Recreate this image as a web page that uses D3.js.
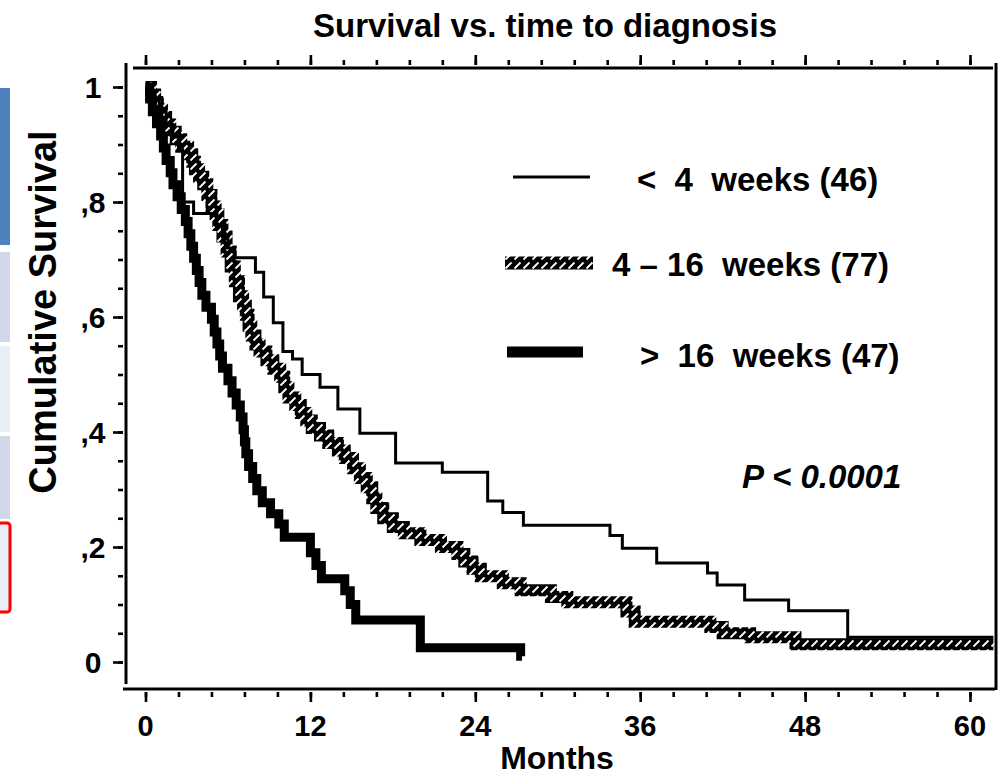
<!DOCTYPE html>
<html>
<head>
<meta charset="utf-8">
<script src="https://cdn.jsdelivr.net/npm/d3@7"></script>
<style>
  body { margin: 0; background: #fff; }
  text { font-family: 'Liberation Sans', Arial, Helvetica, sans-serif; font-weight: bold; fill: #000; }
</style>
</head>
<body>
<svg id="viz" width="999" height="776"></svg>
<script>
// values: [months, cumulative survival]
var shortDelay = [
  [0, 1], [0.5, 0.978], [1.0, 0.957], [1.5, 0.935], [2.0, 0.913], [2.4, 0.891], [2.7, 0.8],
  [3.5, 0.78], [5.2, 0.761], [5.6, 0.739], [6.0, 0.72], [6.5, 0.703], [8.0, 0.678],
  [8.6, 0.635], [9.3, 0.59], [10.0, 0.54], [10.7, 0.527], [11.4, 0.5], [12.7, 0.478],
  [14.0, 0.44], [15.6, 0.398], [18.2, 0.346], [21.6, 0.33], [24.9, 0.28], [26.0, 0.26],
  [27.5, 0.238], [33.8, 0.22], [34.7, 0.198], [37.2, 0.172], [40.9, 0.155], [41.6, 0.134],
  [43.6, 0.108], [46.8, 0.089], [51.1, 0.043]
];
var midDelay = [
  [0, 1], [0.4, 0.987], [0.7, 0.974], [0.9, 0.961], [1.2, 0.948], [1.5, 0.935], [1.8, 0.922],
  [2.2, 0.909], [2.6, 0.896], [3.1, 0.883], [3.4, 0.87], [3.6, 0.857], [3.9, 0.844],
  [4.2, 0.831], [4.5, 0.812], [4.8, 0.792], [5.1, 0.779], [5.3, 0.76], [5.6, 0.74],
  [5.9, 0.714], [6.2, 0.688], [6.5, 0.662], [6.8, 0.636], [7.1, 0.62], [7.3, 0.604],
  [7.5, 0.585], [7.7, 0.568], [8.0, 0.552], [8.3, 0.54], [8.8, 0.525], [9.3, 0.51],
  [9.8, 0.496], [10.1, 0.478], [10.4, 0.46], [10.9, 0.447], [11.3, 0.433], [11.7, 0.42],
  [12.1, 0.407], [12.7, 0.394], [13.3, 0.381], [14.0, 0.368], [14.5, 0.355], [15.1, 0.337],
  [15.6, 0.32], [16.1, 0.304], [16.5, 0.285], [16.8, 0.268], [17.3, 0.25], [18.0, 0.235],
  [18.8, 0.224], [20.0, 0.212], [21.5, 0.2], [22.7, 0.188], [23.2, 0.175], [23.8, 0.162],
  [24.4, 0.149], [26.0, 0.137], [27.3, 0.125], [29.5, 0.113], [30.7, 0.104], [35.0, 0.088],
  [35.6, 0.07], [41.1, 0.061], [42.0, 0.05], [44.0, 0.043], [47.3, 0.031]
];
var longDelay = [
  [0, 1], [0.3, 0.979], [0.5, 0.957], [0.8, 0.936], [1.1, 0.915], [1.3, 0.894], [1.5, 0.872],
  [1.8, 0.851], [2.0, 0.83], [2.3, 0.809], [2.6, 0.787], [2.9, 0.766], [3.1, 0.745],
  [3.3, 0.723], [3.5, 0.702], [3.7, 0.681], [3.9, 0.66], [4.1, 0.638], [4.4, 0.617],
  [4.8, 0.596], [5.0, 0.574], [5.2, 0.553], [5.4, 0.532], [5.6, 0.511], [6.0, 0.489],
  [6.3, 0.468], [6.6, 0.447], [6.9, 0.426], [7.1, 0.404], [7.2, 0.383], [7.3, 0.362],
  [7.5, 0.34], [7.8, 0.319], [8.1, 0.298], [8.5, 0.277], [9.1, 0.258], [9.7, 0.24],
  [10.1, 0.217], [12.0, 0.19], [12.4, 0.168], [12.8, 0.145], [14.5, 0.124], [14.9, 0.1],
  [15.3, 0.073], [20.0, 0.025], [27.3, 0.01]
];
var lastFollowUp = [61.7, 61.7, 27.4];
var groupLabels = ['<  4  weeks (46)', '4 \u2013 16  weeks (77)', '>  16  weeks (47)'];
var xTicks = [0, 12, 24, 36, 48, 60];
var yTicks = [0, 0.2, 0.4, 0.6, 0.8, 1];
var yTickLabels = ['0', ',2', ',4', ',6', ',8', '1'];

var svg = d3.select('#viz');

var x = d3.scaleLinear().domain([0, 60]).range([145.5, 970]);
var y = d3.scaleLinear().domain([0, 1]).range([662, 87]);

// hatch used for the middle group
var defs = svg.append('defs');
var hatch = defs
  .append('pattern')
  .attr('id', 'hatch')
  .attr('patternUnits', 'userSpaceOnUse')
  .attr('width', 9)
  .attr('height', 9);
hatch.append('rect').attr('width', 9).attr('height', 9).attr('fill', '#000');
hatch
  .append('line')
  .attr('x1', 1.5).attr('y1', 7.5).attr('x2', 7.5).attr('y2', 1.5)
  .attr('stroke', '#fff')
  .attr('stroke-width', 1.8);

// slide leftovers on the left edge
var boxes = [
  { y0: 88, y1: 245, fill: '#4f81bd', stroke: 'none' },
  { y0: 252, y1: 342, fill: '#cfd7e8', stroke: 'none' },
  { y0: 346, y1: 432, fill: '#e9edf5', stroke: 'none' },
  { y0: 436, y1: 519, fill: '#cfd7e8', stroke: 'none' },
  { y0: 523, y1: 612, fill: '#e9edf5', stroke: '#ff0000' }
];
svg
  .selectAll('rect.cell')
  .data(boxes)
  .join('rect')
  .attr('class', 'cell')
  .attr('x', -6)
  .attr('y', (d) => d.y0)
  .attr('width', 16)
  .attr('height', (d) => d.y1 - d.y0)
  .attr('rx', (d) => (d.stroke == 'none' ? 0 : 3))
  .attr('fill', (d) => d.fill)
  .attr('stroke', (d) => d.stroke)
  .attr('stroke-width', 3);

// frame
var frame = [
  [126, 63, 126, 684],
  [123, 689, 995, 689],
  [133, 68, 993, 68],
  [996, 63, 996, 690]
];
svg
  .selectAll('line.frame')
  .data(frame)
  .join('line')
  .attr('class', 'frame')
  .attr('x1', (d) => d[0])
  .attr('y1', (d) => d[1])
  .attr('x2', (d) => d[2])
  .attr('y2', (d) => d[3])
  .attr('stroke', '#000')
  .attr('stroke-width', 3);

// ticks: minor every 2.4 months / 0.05, major on the labels
var xMinor = d3.range(0, 60.01, 2.4);
var yMinor = d3.range(0, 1.001, 0.05);

function tickAxis(g, axis) {
  g.call(axis);
  g.select('.domain').remove();
  g.selectAll('line').attr('stroke-width', 2.6);
  g.selectAll('text').remove();
}

svg.append('g').attr('transform', 'translate(0,692)')
  .call((g) => tickAxis(g, d3.axisBottom(x).tickValues(xMinor).tickSize(5)));
svg.append('g').attr('transform', 'translate(0,692)')
  .call((g) => tickAxis(g, d3.axisBottom(x).tickValues(xTicks).tickSize(10)));
svg.append('g').attr('transform', 'translate(0,65)')
  .call((g) => tickAxis(g, d3.axisTop(x).tickValues(xMinor).tickSize(5)));
svg.append('g').attr('transform', 'translate(0,65)')
  .call((g) => tickAxis(g, d3.axisTop(x).tickValues(xTicks).tickSize(10)));
svg.append('g').attr('transform', 'translate(123,0)')
  .call((g) => tickAxis(g, d3.axisLeft(y).tickValues(yMinor).tickSize(5)));
svg.append('g').attr('transform', 'translate(123,0)')
  .call((g) => tickAxis(g, d3.axisLeft(y).tickValues(yTicks).tickSize(10)));

// tick labels
svg
  .selectAll('text.xlab')
  .data(xTicks)
  .join('text')
  .attr('class', 'xlab')
  .attr('x', (d) => x(d))
  .attr('y', 736)
  .attr('text-anchor', 'middle')
  .style('font-size', '29px')
  .text((d) => d);

svg
  .selectAll('text.ylab')
  .data(yTicks)
  .join('text')
  .attr('class', 'ylab')
  .attr('x', 93)
  .attr('y', (d) => y(d))
  .attr('dy', '0.36em')
  .attr('text-anchor', 'middle')
  .style('font-size', '30px')
  .text((d, i) => yTickLabels[i]);

svg
  .append('text')
  .attr('x', 557)
  .attr('y', 769)
  .attr('text-anchor', 'middle')
  .style('font-size', '32px')
  .text('Months');

svg
  .append('text')
  .attr('transform', 'translate(56,312) rotate(-90)')
  .attr('text-anchor', 'middle')
  .style('font-size', '38px')
  .text('Cumulative Survival');

svg
  .append('text')
  .attr('x', 545)
  .attr('y', 37)
  .attr('text-anchor', 'middle')
  .style('font-size', '33px')
  .text('Survival vs. time to diagnosis');

// survival curves
var line = d3
  .line()
  .x((d) => x(d[0]))
  .y((d) => y(d[1]))
  .curve(d3.curveStepAfter);

var groups = [
  { data: shortDelay, end: lastFollowUp[0], stroke: '#000', width: 3 },
  { data: midDelay, end: lastFollowUp[1], stroke: 'url(#hatch)', width: 12 },
  { data: longDelay, end: lastFollowUp[2], stroke: '#000', width: 9 }
];
var drawOrder = [1, 2, 0];

drawOrder.forEach(function (i) {
  var g = groups[i];
  var pts = g.data.concat([[g.end, g.data[g.data.length - 1][1]]]);
  svg
    .append('path')
    .attr('d', line(pts))
    .attr('fill', 'none')
    .attr('stroke', g.stroke)
    .attr('stroke-width', g.width)
    .attr('stroke-linejoin', 'miter');
});

// legend
var legendY = [177, 263, 352];
var legendTextX = [637, 612, 640];
var legendTextY = [191, 276, 367];

svg.append('line')
  .attr('x1', 513).attr('x2', 590)
  .attr('y1', legendY[0]).attr('y2', legendY[0])
  .attr('stroke', '#000').attr('stroke-width', 3);
svg.append('rect')
  .attr('x', 505).attr('y', legendY[1] - 6.5)
  .attr('width', 88).attr('height', 13)
  .attr('fill', 'url(#hatch)');
svg.append('line')
  .attr('x1', 507).attr('x2', 583)
  .attr('y1', legendY[2]).attr('y2', legendY[2])
  .attr('stroke', '#000').attr('stroke-width', 11);

svg
  .selectAll('text.leg')
  .data(groupLabels)
  .join('text')
  .attr('class', 'leg')
  .attr('x', (d, i) => legendTextX[i])
  .attr('y', (d, i) => legendTextY[i])
  .attr('xml:space', 'preserve')
  .style('white-space', 'pre')
  .style('font-size', '33px')
  .text((d) => d);

svg
  .append('text')
  .attr('x', 742)
  .attr('y', 488)
  .style('font-size', '33px')
  .style('font-style', 'italic')
  .text('P < 0.0001');
</script>
</body>
</html>
